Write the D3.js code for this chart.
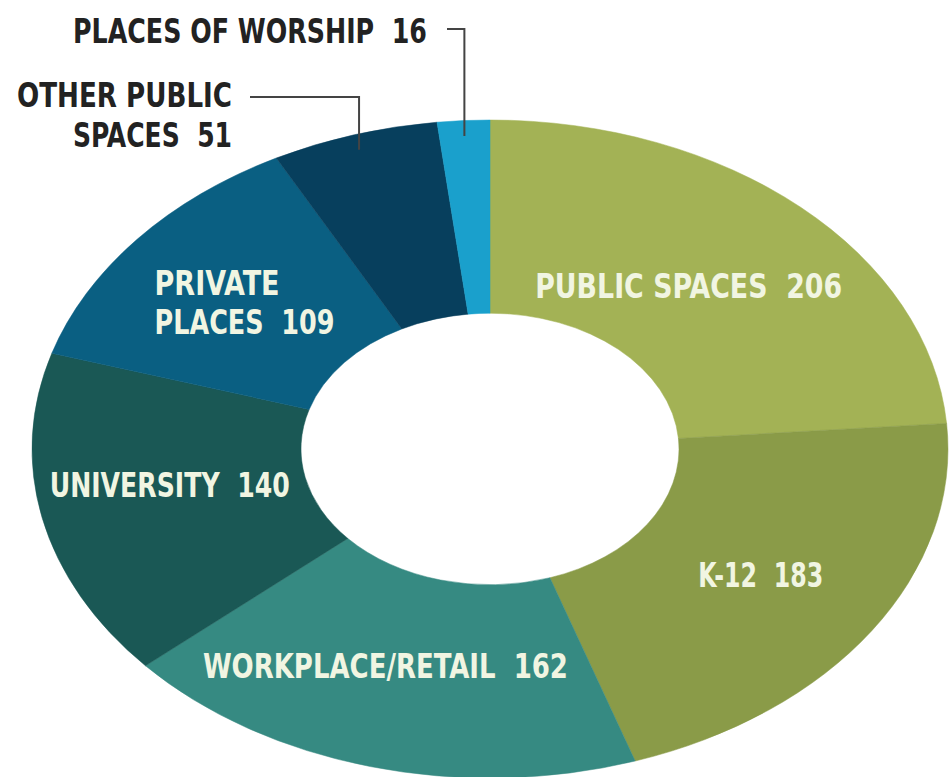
<!DOCTYPE html>
<html>
<head>
<meta charset="utf-8">
<script src="https://cdn.jsdelivr.net/npm/d3@7"></script>
<style>
  html, body { margin: 0; padding: 0; background: #ffffff; }
  svg { display: block; }
  text { font-family: "Liberation Sans Narrow", "DejaVu Sans Condensed", "Roboto", sans-serif; font-weight: bold; white-space: pre; }
</style>
</head>
<body>
<svg id="chart" width="949" height="777"></svg>
<script>
// ---- data ----
const categories = ["PUBLIC SPACES", "K-12", "WORKPLACE/RETAIL", "UNIVERSITY", "PRIVATE PLACES", "OTHER PUBLIC SPACES", "PLACES OF WORSHIP"];
const values     = [206, 183, 162, 140, 109, 51, 16];
const colors     = ["#a3b255", "#8a9b48", "#368a82", "#1a5855", "#0a5f82", "#073f5d", "#1aa0cc"];
// label text lines (value appended on the last line)
const labelLines = [["PUBLIC SPACES"], ["K-12"], ["WORKPLACE/RETAIL"], ["UNIVERSITY"], ["PRIVATE", "PLACES"], ["OTHER PUBLIC", "SPACES"], ["PLACES OF WORSHIP"]];

// ---- layout ----
const cx = 490, cy = 449;
const outerR = 458, innerR = 189;
const yScale = 329 / 458;  // elliptical squash
const fontSize = 33;
const lineGap = 39;
const inLayout = [
  {dx: -21, dy: 20, anchor: "middle", widths: [307]},
  {dx: 1, dy: 10, anchor: "middle", widths: [125]},
  {dx: -20, dy: 5, anchor: "middle", widths: [365]},
  {dx: -4, dy: -1, anchor: "middle", widths: [240]},
  {dx: -86, dy: -6, anchor: "start", widths: [125, 180]},
  null, null
];
const outLayout = [
  null, null, null, null, null,
  {x: 232, y: 107, elbowY: 97, lineStart: 250, widths: [215, 159]},
  {x: 427, y: 43, elbowY: 29, lineStart: 447, widths: [354]}
];

const svg = d3.select("#chart");
const color = d3.scaleOrdinal().domain(categories).range(colors);

const pie = d3.pie().sort(null).value(d => d.value).startAngle(0).endAngle(2 * Math.PI);
const data = categories.map((c, i) => ({name: c, value: values[i], i}));
const arcs = pie(data);

const arc = d3.arc().innerRadius(innerR).outerRadius(outerR);

const g = svg.append("g").attr("transform", `translate(${cx},${cy}) scale(1,${yScale})`);
g.selectAll("path").data(arcs).enter().append("path")
  .attr("d", arc)
  .attr("fill", d => color(d.data.name))
  .attr("stroke", d => color(d.data.name))
  .attr("stroke-width", 0.6);

function toScreen(p) { return [cx + p[0], cy + p[1] * yScale]; }

arcs.forEach((d, i) => {
  const L = inLayout[i];
  if (!L) return;
  const c = toScreen(arc.centroid(d));
  const lines = labelLines[i];
  lines.forEach((ln, k) => {
    const txt = (k === lines.length - 1) ? ln + "  " + d.data.value : ln;
    svg.append("text")
      .attr("x", c[0] + L.dx)
      .attr("y", c[1] + L.dy + k * lineGap)
      .attr("text-anchor", L.anchor)
      .attr("font-size", fontSize)
      .attr("fill", "#f1f5e2")
      .attr("textLength", L.widths[k])
      .attr("lengthAdjust", "spacingAndGlyphs")
      .text(txt);
  });
});

arcs.forEach((d, i) => {
  const L = outLayout[i];
  if (!L) return;
  const lines = labelLines[i];
  lines.forEach((ln, k) => {
    const txt = (k === lines.length - 1) ? ln + "  " + d.data.value : ln;
    svg.append("text")
      .attr("x", L.x)
      .attr("y", L.y + k * 40)
      .attr("text-anchor", "end")
      .attr("font-size", fontSize)
      .attr("fill", "#222222")
      .attr("textLength", L.widths[k])
      .attr("lengthAdjust", "spacingAndGlyphs")
      .text(txt);
  });
  const mid = (d.startAngle + d.endAngle) / 2;
  const r = outerR - 16;
  const px = cx + r * Math.sin(mid);
  const py = cy - r * Math.cos(mid) * yScale + 4;
  svg.append("path")
    .attr("d", d3.line()([[L.lineStart, L.elbowY], [px, L.elbowY], [px, py]]))
    .attr("fill", "none")
    .attr("stroke", "#444444")
    .attr("stroke-width", 2);
});
</script>
</body>
</html>
